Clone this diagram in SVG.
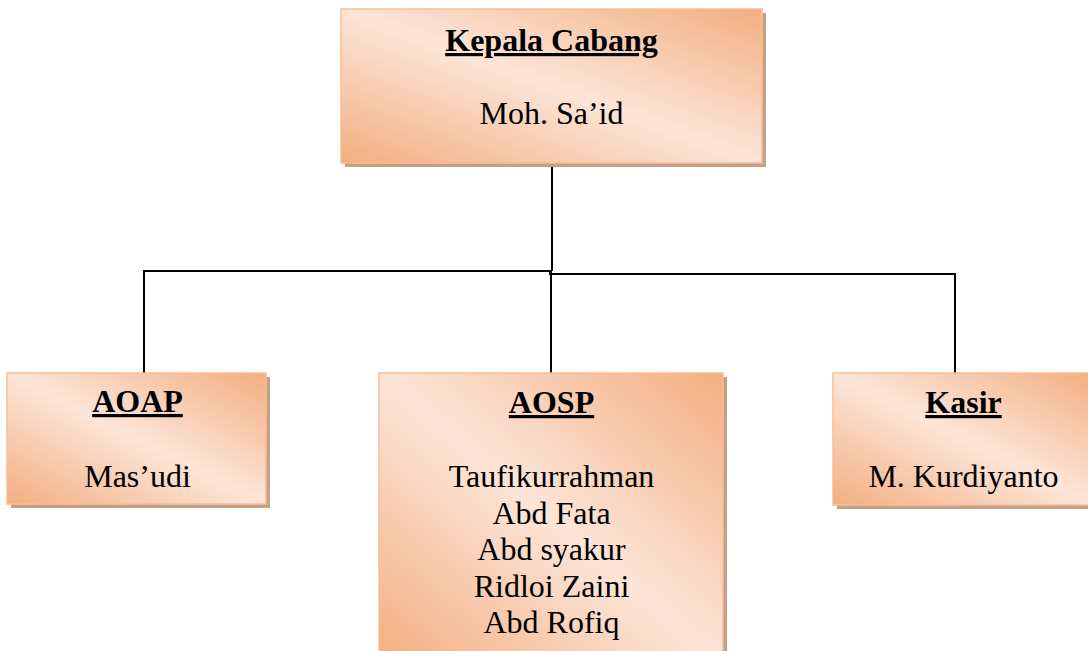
<svg xmlns="http://www.w3.org/2000/svg" width="1088" height="651" viewBox="0 0 1088 651">
<defs>
<linearGradient id="peach" x1="1" y1="0" x2="0" y2="1">
<stop offset="0" stop-color="#F3AE80"/>
<stop offset="0.5" stop-color="#FCE5D8"/>
<stop offset="1" stop-color="#F3AE80"/>
</linearGradient>
<linearGradient id="peach2" x1="0" y1="0" x2="1" y2="1">
<stop offset="0" stop-color="#FCE6DA"/>
<stop offset="0.3" stop-color="#F5BA92"/>
<stop offset="0.5" stop-color="#FBE0D0"/>
<stop offset="0.75" stop-color="#FCE6DA"/>
<stop offset="1" stop-color="#FDE9DE"/>
</linearGradient>
</defs>
<style>
.shadow{fill:#C4A086;}
.box{fill:url(#peach);stroke:#F6BE98;stroke-width:1.5;}
.t{font-family:"Liberation Serif","Times New Roman",serif;font-size:32px;fill:#000;text-anchor:middle;}
.b{font-weight:bold;text-decoration:underline;}
.conn{fill:none;stroke:#000;stroke-width:2;}
</style>
<g id="connectors">
<polyline class="conn" points="552,163 552,271"/>
<polyline class="conn" points="144,373 144,271 550,271 550,274 551,274"/>
<polyline class="conn" points="551,271 551,373"/>
<polyline class="conn" points="551,274 955,274 955,373"/>
</g>
<g id="kepala-cabang">
<rect class="shadow" x="345" y="13" width="421" height="154"/>
<rect class="box" x="341" y="9" width="421" height="154"/>
<text class="t b" x="551.5" y="51">Kepala Cabang</text>
<text class="t" x="551.5" y="124">Moh. Sa’id</text>
</g>
<g id="aoap">
<rect class="shadow" x="11" y="377" width="259" height="131"/>
<rect class="box" x="7" y="373" width="259" height="131"/>
<text class="t b" x="137.5" y="412">AOAP</text>
<text class="t" x="137.5" y="487">Mas’udi</text>
</g>
<g id="aosp">
<rect class="shadow" x="383" y="377" width="344" height="290"/>
<rect class="box" x="379" y="373" width="344" height="290"/>
<text class="t b" x="551.5" y="413">AOSP</text>
<text class="t" x="551.5" y="487">Taufikurrahman</text>
<text class="t" x="551.5" y="523.5">Abd Fata</text>
<text class="t" x="551.5" y="560">Abd syakur</text>
<text class="t" x="551.5" y="596.5">Ridloi Zaini</text>
<text class="t" x="551.5" y="633">Abd Rofiq</text>
</g>
<g id="kasir">
<rect class="shadow" x="837" y="377" width="261" height="132"/>
<rect class="box" x="833" y="373" width="261" height="132"/>
<text class="t b" x="963.5" y="413">Kasir</text>
<text class="t" x="963.5" y="487">M. Kurdiyanto</text>
</g>
</svg>
